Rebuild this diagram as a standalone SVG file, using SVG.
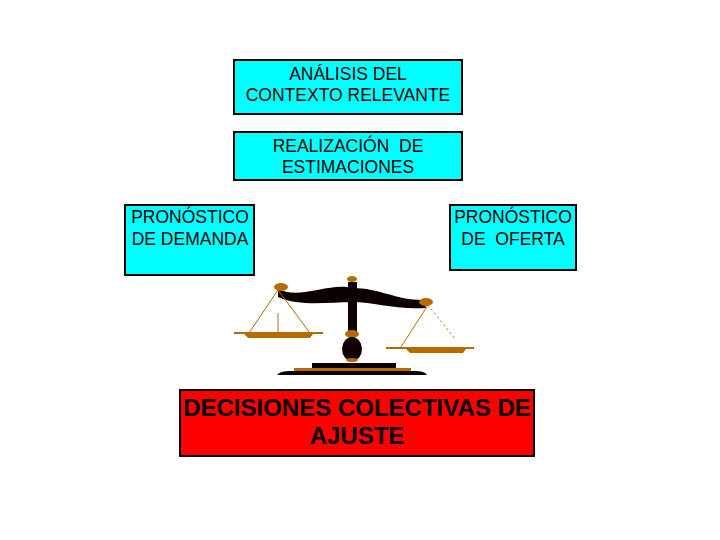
<svg xmlns="http://www.w3.org/2000/svg" width="720" height="540" viewBox="0 0 720 540" xml:space="preserve">
<style>
.b{fill:#00ffff;stroke:#000;stroke-width:2}
.t{font-family:"Liberation Sans",Arial,sans-serif;font-size:17.5px;text-anchor:middle;fill:#000;white-space:pre}
.r{font-family:"Liberation Sans",Arial,sans-serif;font-size:24px;font-weight:bold;text-anchor:middle;fill:#000}
.o{fill:#b86a00}.d{fill:#0d0000}
.s{stroke:#b86a00;stroke-width:1;fill:none}
</style>
<rect width="720" height="540" fill="#fff"/>
<g id="analisis"><rect class="b" x="234" y="60" width="228" height="54"/><text class="t" x="348" y="80">ANÁLISIS DEL</text><text class="t" x="348" y="101">CONTEXTO RELEVANTE</text></g>
<g id="estimaciones"><rect class="b" x="234" y="132" width="228" height="48"/><text class="t" x="348" y="152">REALIZACIÓN  DE</text><text class="t" x="348" y="173">ESTIMACIONES</text></g>
<g id="demanda"><rect class="b" x="125" y="205" width="129" height="70"/><text class="t" x="190" y="223">PRONÓSTICO</text><text class="t" x="190" y="245">DE DEMANDA</text></g>
<g id="oferta"><rect class="b" x="450" y="205" width="126" height="65"/><text class="t" x="513" y="223">PRONÓSTICO</text><text class="t" x="513" y="245">DE  OFERTA</text></g>
<g id="balanza">
<path class="d" d="M278,289 C300,300 330,282 352,288 C380,288 395,300 423,300 L426,308 C395,310 375,302 352,302 C330,302 300,307 278,297 Z"/>
<rect class="d" x="348" y="282" width="9" height="50"/>
<ellipse class="d" cx="352" cy="295" rx="7" ry="10"/>
<ellipse class="o" cx="352" cy="279" rx="5" ry="3"/>
<ellipse class="o" cx="281" cy="287" rx="7" ry="4"/>
<ellipse class="o" cx="426" cy="302" rx="7" ry="4"/>
<path class="s" d="M278,290 L249,333 M278,290 L310,333 M278,313 L278,333 M428,305 L401,347"/>
<path class="s" d="M428,305 L456,340" stroke-dasharray="2,3"/>
<rect class="o" x="234" y="332" width="89" height="2"/>
<path class="o" d="M244,334 H313 L310,338 H248 Z"/>
<rect class="o" x="386" y="347" width="88" height="2"/>
<path class="o" d="M406,349 H466 L463,353 H410 Z"/>
<ellipse class="o" cx="352" cy="334" rx="7" ry="4"/>
<ellipse class="d" cx="352" cy="349" rx="10" ry="12"/>
<ellipse class="o" cx="352" cy="360" rx="6" ry="2"/>
<rect class="d" x="312" y="363" width="84" height="5"/>
<rect class="o" x="294" y="368" width="117" height="3"/>
<path class="d" d="M277,375 Q280,371 290,371 H415 Q425,371 427,375 Z"/>
</g>
<g id="decisiones"><rect x="180" y="390" width="354" height="66" fill="#ff0000" stroke="#000" stroke-width="2"/><text class="r" x="357" y="416">DECISIONES COLECTIVAS DE</text><text class="r" x="357" y="444">AJUSTE</text></g>
<g id="connectors"></g>
</svg>
